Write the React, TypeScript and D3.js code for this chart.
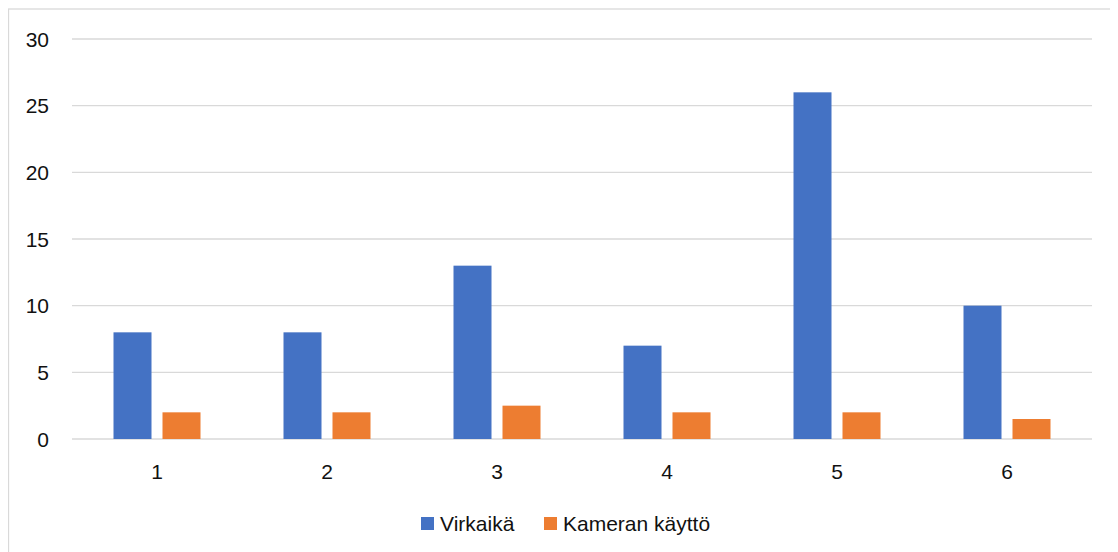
import React from "react";
import * as d3 from "d3";

const categories = ["1", "2", "3", "4", "5", "6"];
const seriesNames = ["Virkaikä", "Kameran käyttö"];
const virkaika = [8, 8, 13, 7, 26, 10];
const kameranKaytto = [2, 2, 2.5, 2, 2, 1.5];
const yTicks = [0, 5, 10, 15, 20, 25, 30];
const colors = ["#4472C4", "#ED7D31"];

export default function App() {
  const width = 1110;
  const height = 544;
  const marginLeft = 64;
  const marginRight = 26;
  const marginTop = 31;
  const plotBottom = 431;
  const font = "'Liberation Sans', Arial, sans-serif";

  const x0 = d3
    .scaleBand()
    .domain(categories)
    .range([marginLeft, width - marginRight]);
  const x1 = d3
    .scaleBand()
    .domain(seriesNames)
    .range([0, x0.bandwidth()])
    .paddingInner(0.2245)
    .paddingOuter(0.847);
  const y = d3.scaleLinear().domain([0, 30]).range([plotBottom, marginTop]);

  const values = [virkaika, kameranKaytto];

  return (
    <svg width={width} height={height} style={{ display: "block" }}>
      <rect x={0.5} y={1} width={width + 20} height={height + 20} fill="white" stroke="#d9d9d9" strokeWidth={1.3} />
      <g>
        {yTicks.map((t) => (
          <line
            key={t}
            x1={marginLeft}
            x2={width - marginRight}
            y1={y(t)}
            y2={y(t)}
            stroke="#d9d9d9"
            strokeWidth={1.3}
          />
        ))}
      </g>
      <g fontFamily={font} fontSize={21} fill="#111">
        {yTicks.map((t) => (
          <text key={t} x={41} y={y(t)} dy="0.36em" textAnchor="end">
            {t}
          </text>
        ))}
        {categories.map((c) => (
          <text key={c} x={x0(c)! + x0.bandwidth() / 2} y={471} textAnchor="middle">
            {c}
          </text>
        ))}
      </g>
      {seriesNames.map((s, si) => (
        <g key={s} fill={colors[si]}>
          {categories.map((c, i) => (
            <rect
              key={c}
              x={x0(c)! + x1(s)!}
              y={y(values[si][i])}
              width={x1.bandwidth()}
              height={plotBottom - y(values[si][i])}
            />
          ))}
        </g>
      ))}
      <g fontFamily={font} fontSize={21} fill="#111">
        <rect x={413} y={509} width={13} height={13} fill={colors[0]} />
        <text x={432} y={523}>{seriesNames[0]}</text>
        <rect x={536} y={509} width={13} height={13} fill={colors[1]} />
        <text x={555} y={523}>{seriesNames[1]}</text>
      </g>
    </svg>
  );
}
